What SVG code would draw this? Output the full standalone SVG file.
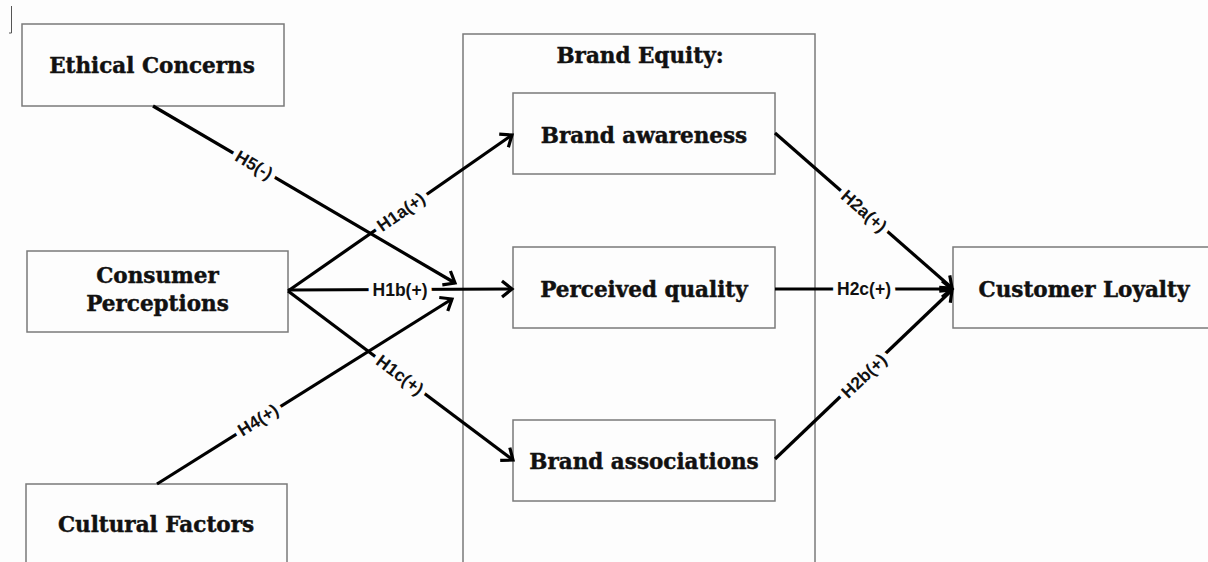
<svg xmlns="http://www.w3.org/2000/svg" width="1208" height="562" viewBox="0 0 1208 562">
  <style>
    .box { fill: #fdfdfd; stroke: #7a7a7a; stroke-width: 1.5; }
    .title { font-family: "DejaVu Serif", "Liberation Serif", serif; font-weight: bold; font-size: 21.5px; fill: #111; stroke: #111; stroke-width: 0.45; text-anchor: middle; }
    .edge { fill: none; stroke: #000; stroke-width: 3.2; }
    .lbl { font-family: "Liberation Sans", Arial, sans-serif; font-weight: bold; font-size: 17.5px; fill: #111; text-anchor: middle; dominant-baseline: central; stroke: #fdfdfd; stroke-width: 10; paint-order: stroke; stroke-linejoin: round; }
  </style>
  <defs>
    <marker id="arrow" markerUnits="userSpaceOnUse" viewBox="-15 -15 30 30" markerWidth="30" markerHeight="30" refX="0" refY="0" orient="auto" overflow="visible">
      <path d="M-10,-8 L0,0 L-10,8" fill="none" stroke="#000" stroke-width="3.2" stroke-linejoin="miter"/>
    </marker>
  </defs>

  <rect width="1208" height="562" fill="#fdfdfd"/>

  <!-- small cursor mark at top-left -->
  <path d="M11.5,6 V33 H9" fill="none" stroke="#555" stroke-width="1"/>

  <!-- container -->
  <g id="brand-equity">
    <rect class="box" x="463" y="34" width="352" height="560"/>
    <text class="title" x="640" y="63">Brand Equity:</text>
  </g>

  <g id="ethical-concerns">
    <rect class="box" x="22" y="24" width="262" height="82"/>
    <text class="title" x="152" y="73">Ethical Concerns</text>
  </g>

  <g id="consumer-perceptions">
    <rect class="box" x="27" y="251" width="261" height="81"/>
    <text class="title" x="157.5" y="283">Consumer</text>
    <text class="title" x="157.5" y="311">Perceptions</text>
  </g>

  <g id="cultural-factors">
    <rect class="box" x="26" y="484" width="261" height="100"/>
    <text class="title" x="156" y="532">Cultural Factors</text>
  </g>

  <g id="brand-awareness">
    <rect class="box" x="513" y="93" width="262" height="81"/>
    <text class="title" x="644" y="143">Brand awareness</text>
  </g>

  <g id="perceived-quality">
    <rect class="box" x="513" y="247" width="262" height="81"/>
    <text class="title" x="644" y="297">Perceived quality</text>
  </g>

  <g id="brand-associations">
    <rect class="box" x="513" y="420" width="262" height="81"/>
    <text class="title" x="644" y="469">Brand associations</text>
  </g>

  <g id="customer-loyalty">
    <rect class="box" x="953" y="247" width="280" height="81"/>
    <text class="title" x="1084" y="297">Customer Loyalty</text>
  </g>

  <!-- connectors -->
  <g id="connectors">
    <line class="edge" x1="153" y1="106" x2="455" y2="283" marker-end="url(#arrow)"/>
    <line class="edge" x1="288" y1="291" x2="512" y2="135" marker-end="url(#arrow)"/>
    <line class="edge" x1="288" y1="290" x2="512" y2="289" marker-end="url(#arrow)"/>
    <line class="edge" x1="288" y1="291" x2="513" y2="460" marker-end="url(#arrow)"/>
    <line class="edge" x1="157" y1="484" x2="452" y2="299" marker-end="url(#arrow)"/>
    <line class="edge" x1="775" y1="133" x2="952" y2="288" marker-end="url(#arrow)"/>
    <line class="edge" x1="775" y1="289" x2="952" y2="289" marker-end="url(#arrow)"/>
    <line class="edge" x1="775" y1="459" x2="952" y2="290" marker-end="url(#arrow)"/>

    <text class="lbl" transform="translate(254,165) rotate(30.4)">H5(-)</text>
    <text class="lbl" transform="translate(401,212) rotate(-34.9)">H1a(+)</text>
    <text class="lbl" x="400" y="290">H1b(+)</text>
    <text class="lbl" transform="translate(400,375) rotate(36.9)">H1c(+)</text>
    <text class="lbl" transform="translate(258,420) rotate(-32.1)">H4(+)</text>
    <text class="lbl" transform="translate(864,211) rotate(41.2)">H2a(+)</text>
    <text class="lbl" x="864" y="289">H2c(+)</text>
    <text class="lbl" transform="translate(864,376) rotate(-43.8)">H2b(+)</text>
  </g>
</svg>
